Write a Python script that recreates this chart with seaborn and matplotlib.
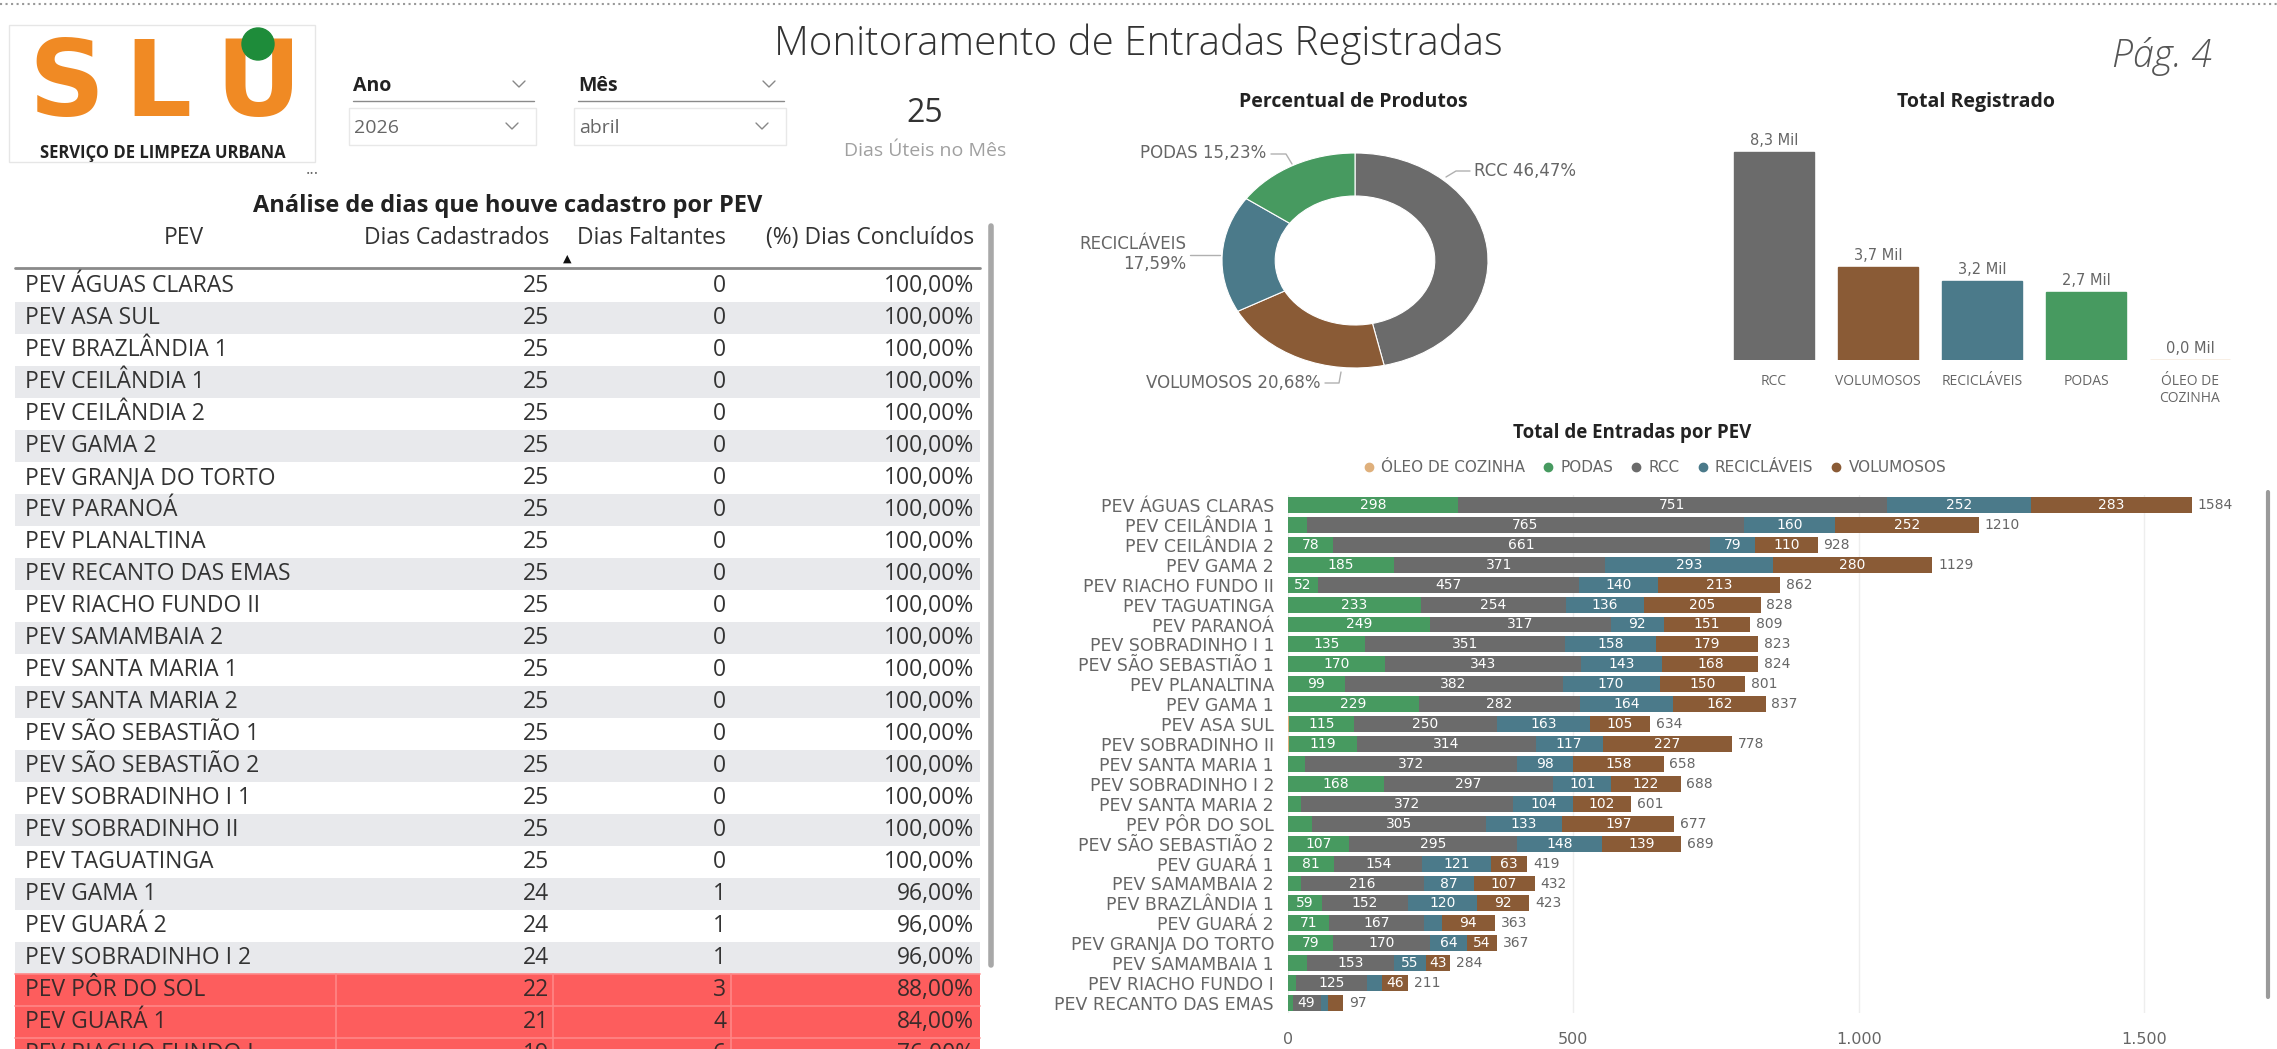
import matplotlib
matplotlib.use("Agg")
import matplotlib.pyplot as plt
from matplotlib.patches import Rectangle, Circle
from matplotlib.lines import Line2D
import numpy as np
import pandas as pd
import seaborn as sns

# ---------------- data ----------------
table_pev = ["PEV ÁGUAS CLARAS", "PEV ASA SUL", "PEV BRAZLÂNDIA 1", "PEV CEILÂNDIA 1",
             "PEV CEILÂNDIA 2", "PEV GAMA 2", "PEV GRANJA DO TORTO", "PEV PARANOÁ",
             "PEV PLANALTINA", "PEV RECANTO DAS EMAS", "PEV RIACHO FUNDO II", "PEV SAMAMBAIA 2",
             "PEV SANTA MARIA 1", "PEV SANTA MARIA 2", "PEV SÃO SEBASTIÃO 1", "PEV SÃO SEBASTIÃO 2",
             "PEV SOBRADINHO I 1", "PEV SOBRADINHO II", "PEV TAGUATINGA", "PEV GAMA 1",
             "PEV GUARÁ 2", "PEV SOBRADINHO I 2", "PEV PÔR DO SOL", "PEV GUARÁ 1",
             "PEV RIACHO FUNDO I"]
dias_cadastrados = [25, 25, 25, 25, 25, 25, 25, 25, 25, 25, 25, 25, 25, 25, 25, 25, 25, 25, 25,
                    24, 24, 24, 22, 21, 19]
dias_faltantes = [0, 0, 0, 0, 0, 0, 0, 0, 0, 0, 0, 0, 0, 0, 0, 0, 0, 0, 0,
                  1, 1, 1, 3, 4, 6]
pct_concluidos = [100, 100, 100, 100, 100, 100, 100, 100, 100, 100, 100, 100, 100, 100, 100,
                  100, 100, 100, 100, 96, 96, 96, 88, 84, 76]

pev_names = ["PEV ÁGUAS CLARAS", "PEV CEILÂNDIA 1", "PEV CEILÂNDIA 2", "PEV GAMA 2",
             "PEV RIACHO FUNDO II", "PEV TAGUATINGA", "PEV PARANOÁ", "PEV SOBRADINHO I 1",
             "PEV SÃO SEBASTIÃO 1", "PEV PLANALTINA", "PEV GAMA 1", "PEV ASA SUL",
             "PEV SOBRADINHO II", "PEV SANTA MARIA 1", "PEV SOBRADINHO I 2", "PEV SANTA MARIA 2",
             "PEV PÔR DO SOL", "PEV SÃO SEBASTIÃO 2", "PEV GUARÁ 1", "PEV SAMAMBAIA 2",
             "PEV BRAZLÂNDIA 1", "PEV GUARÁ 2", "PEV GRANJA DO TORTO", "PEV SAMAMBAIA 1",
             "PEV RIACHO FUNDO I", "PEV RECANTO DAS EMAS"]
oleo = [0, 0, 0, 0, 0, 0, 0, 0, 0, 0, 0, 1, 1, 0, 0, 0, 0, 0, 0, 0, 0, 0, 0, 0, 0, 0]
podas = [298, 33, 78, 185, 52, 233, 249, 135, 170, 99, 229, 115, 119, 30, 168, 23, 42, 107,
         81, 22, 59, 71, 79, 33, 14, 8]
rcc = [751, 765, 661, 371, 457, 254, 317, 351, 343, 382, 282, 250, 314, 372, 297, 372, 305,
       295, 154, 216, 152, 167, 170, 153, 125, 49]
reciclaveis = [252, 160, 79, 293, 140, 136, 92, 158, 143, 170, 164, 163, 117, 98, 101, 104,
               133, 148, 121, 87, 120, 31, 64, 55, 26, 13]
volumosos = [283, 252, 110, 280, 213, 205, 151, 179, 168, 150, 162, 105, 227, 158, 122, 102,
             197, 139, 63, 107, 92, 94, 54, 43, 46, 27]

donut_labels = ["RCC", "VOLUMOSOS", "RECICLÁVEIS", "PODAS"]
donut_pct = [46.47, 20.68, 17.59, 15.23]

total_cats = ["RCC", "VOLUMOSOS", "RECICLÁVEIS", "PODAS", "ÓLEO DE\nCOZINHA"]

C_OLEO = "#dfb07c"
C_PODAS = "#479a60"
C_RCC = "#6b6b6b"
C_REC = "#4b7a8a"
C_VOL = "#8a5b36"
GRAY = "#666666"

sns.set_style("white")
plt.rcParams["font.family"] = ["Open Sans", "DejaVu Sans"]

W, H = 2277, 1049
fig = plt.figure(figsize=(W / 100, H / 100), dpi=100)


def add_ax(x0, y0, x1, y1):
    return fig.add_axes([x0 / W, 1 - y1 / H, (x1 - x0) / W, (y1 - y0) / H])


# background canvas in pixel coordinates
bg = fig.add_axes([0, 0, 1, 1])
bg.set_xlim(0, W)
bg.set_ylim(H, 0)
bg.axis("off")

bg.plot([0, W], [4, 4], ls=":", color="#999999", lw=1.5)

# ---------------- header ----------------
bg.text(1138, 44, "Monitoramento de Entradas Registradas", ha="center", va="center",
        fontsize=29, fontweight="light", color="#333333")
bg.text(2212, 57, "Pág. 4", ha="right", va="center", fontsize=27, fontstyle="italic",
        fontweight="light", color="#555555")

# logo
bg.add_patch(Rectangle((9, 25), 306, 137, facecolor="white", edgecolor="#e6e6e6", lw=1))
for letter, xc in [("S", 66), ("L", 158), ("U", 258)]:
    bg.text(xc, 116, letter, ha="center", va="baseline", fontsize=76, fontweight="heavy",
            color="#f08a24", family="DejaVu Sans")
bg.add_patch(Circle((258, 44), 16, color="#1e8c3a", zorder=5))
bg.text(163, 153, "SERVIÇO DE LIMPEZA URBANA", ha="center", va="center", fontsize=12,
        fontweight="bold", color="#222222")


def chevron(x, y, size=6):
    bg.plot([x - size, x, x + size], [y - size / 2, y + size / 2, y - size / 2],
            color="#888888", lw=1)


# slicers
for x0, x1, head, val in [(353, 534, "Ano", "2026"), (578, 784, "Mês", "abril")]:
    bg.text(x0, 86, head, ha="left", va="center", fontsize=14, fontweight="bold", color="#222222")
    bg.plot([x0, x1], [101, 101], color="#8a8a8a", lw=1)
    chevron(x1 - 15, 84)
    bg.add_patch(Rectangle((x0 - 4, 108), x1 - x0 + 6, 37, facecolor="white",
                           edgecolor="#e8e8e8", lw=1))
    bg.text(x0 + 1, 128, val, ha="left", va="center", fontsize=14, color=GRAY)
    chevron(x1 - 22, 126)

bg.text(925, 113, "25", ha="center", va="center", fontsize=23, color="#333333")
bg.text(925, 151, "Dias Úteis no Mês", ha="center", va="center", fontsize=14, color="#a0a0a0")
bg.text(312, 170, "...", ha="center", va="center", fontsize=12, color=GRAY)

# ---------------- table ----------------
bg.text(508, 206, "Análise de dias que houve cadastro por PEV", ha="center", va="center",
        fontsize=17, fontweight="bold", color="#222222")
bg.text(184, 238, "PEV", ha="center", va="center", fontsize=16.5, color="#333333")
bg.text(549, 238, "Dias Cadastrados", ha="right", va="center", fontsize=16.5, color="#333333")
bg.text(726, 238, "Dias Faltantes", ha="right", va="center", fontsize=16.5, color="#333333")
bg.text(974, 238, "(%) Dias Concluídos", ha="right", va="center", fontsize=16.5, color="#333333")
bg.text(567, 259, "▲", ha="center", va="center", fontsize=8, color="#111111", family="DejaVu Sans")
bg.plot([15, 980], [268, 268], color="#8a8a8a", lw=2)

for i, name in enumerate(table_pev):
    yc = 286 + 32 * i
    red = pct_concluidos[i] < 90
    if red:
        face = "#fd5d5d"
    elif i % 2 == 1:
        face = "#e8e9ec"
    else:
        face = "white"
    bg.add_patch(Rectangle((15, yc - 16), 965, 32, facecolor=face, edgecolor="none"))
    if red:
        for xs in (336, 553, 731):
            bg.plot([xs, xs], [yc - 16, yc + 16], color="#ff8686", lw=1.2)
        bg.plot([15, 980], [yc - 16, yc - 16], color="#ff8686", lw=1.2)
    tc = "#3a2a2a" if red else "#333333"
    bg.text(25, yc, name, ha="left", va="center", fontsize=16.5, color=tc, clip_on=True)
    bg.text(549, yc, str(dias_cadastrados[i]), ha="right", va="center", fontsize=16.5, color=tc,
            clip_on=True)
    bg.text(726, yc, str(dias_faltantes[i]), ha="right", va="center", fontsize=16.5, color=tc,
            clip_on=True)
    bg.text(974, yc, f"{pct_concluidos[i]:.2f}%".replace(".", ","), ha="right", va="center",
            fontsize=16.5, color=tc, clip_on=True)

bg.plot([991, 991], [226, 965], color="#a8a8a8", lw=4, solid_capstyle="round")

# ---------------- donut ----------------
bg.text(1353, 102, "Percentual de Produtos", ha="center", va="center", fontsize=14,
        fontweight="bold", color="#222222")
ax_d = add_ax(1222, 153, 1488, 368)
ax_d.pie(donut_pct, colors=[C_RCC, C_VOL, C_REC, C_PODAS], startangle=90, counterclock=False,
         wedgeprops=dict(width=0.4, edgecolor="white", linewidth=0.8))
ax_d.set_aspect("auto")
ax_d.set_xlim(-1, 1)
ax_d.set_ylim(-1, 1)
ax_d.axis("off")

fmt = lambda p: f"{p:.2f}%".replace(".", ",")
lab_kw = dict(fontsize=12, color=GRAY, family="DejaVu Sans", va="center")
bg.text(1266, 153, f"{donut_labels[3]} {fmt(donut_pct[3])}", ha="right", **lab_kw)
bg.plot([1271, 1286, 1292], [154, 154, 164], color="#b0b0b0", lw=1)
bg.text(1474, 171, f"{donut_labels[0]} {fmt(donut_pct[0])}", ha="left", **lab_kw)
bg.plot([1446, 1456, 1470], [177, 171, 171], color="#b0b0b0", lw=1)
bg.text(1186, 254, f"{donut_labels[2]}\n{fmt(donut_pct[2])}", ha="right",
        multialignment="right", linespacing=1.1, **lab_kw)
bg.plot([1190, 1220], [255, 255], color="#b0b0b0", lw=1)
bg.text(1320, 383, f"{donut_labels[1]} {fmt(donut_pct[1])}", ha="right", **lab_kw)
bg.plot([1325, 1339, 1341], [383, 383, 372], color="#b0b0b0", lw=1)

# ---------------- total registrado ----------------
bg.text(1976, 102, "Total Registrado", ha="center", va="center", fontsize=14,
        fontweight="bold", color="#222222")
totals_df = pd.DataFrame({
    "cat": total_cats,
    "total": [sum(rcc), sum(volumosos), sum(reciclaveis), sum(podas), sum(oleo)],
})
ax_t = add_ax(1722, 120, 2242, 360)
sns.barplot(data=totals_df, x="cat", y="total", hue="cat", legend=False, saturation=1,
            palette=[C_RCC, C_VOL, C_REC, C_PODAS, C_OLEO], width=0.77, ax=ax_t)
for patch, c in zip(ax_t.patches, [C_RCC, C_VOL, C_REC, C_PODAS, C_OLEO]):
    patch.set_edgecolor(c)
    patch.set_linewidth(1)
ax_t.set_ylim(0, sum(rcc) * 240 / 208)
ax_t.set_xlim(-0.5, 4.5)
for i, v in enumerate(totals_df["total"]):
    ax_t.annotate(f"{v / 1000:.1f} Mil".replace(".", ","), (i, v), xytext=(0, 3),
                  textcoords="offset points", ha="center", va="bottom",
                  fontsize=10.5, color=GRAY, family="DejaVu Sans")
ax_t.set_xlabel("")
ax_t.set_ylabel("")
ax_t.set_yticks([])
ax_t.tick_params(axis="x", length=0, pad=10, labelsize=10, labelcolor=GRAY)
for lbl in ax_t.get_xticklabels():
    lbl.set_verticalalignment("top")
    lbl.set_linespacing(1.15)
sns.despine(ax=ax_t, left=True, bottom=True)
ax_t.patch.set_alpha(0)

# ---------------- stacked bars ----------------
bg.text(1632, 433, "Total de Entradas por PEV", ha="center", va="center", fontsize=13.5,
        fontweight="bold", color="#222222")

df = pd.DataFrame({"pev": pev_names, "oleo": oleo, "podas": podas, "rcc": rcc,
                   "rec": reciclaveis, "vol": volumosos})
cols = ["oleo", "podas", "rcc", "rec", "vol"]
colors = {"oleo": C_OLEO, "podas": C_PODAS, "rcc": C_RCC, "rec": C_REC, "vol": C_VOL}
cum = df[cols].cumsum(axis=1)

ax_s = add_ax(1288, 495, 2247, 1013)
for c in reversed(cols):
    sns.barplot(x=cum[c], y=df["pev"], order=pev_names, orient="y", color=colors[c],
                saturation=1, width=0.8, ax=ax_s, edgecolor="none")
ax_s.set_xlim(0, 1680)
ax_s.set_ylim(25.5, -0.5)
for i in range(len(df)):
    for c in cols[1:]:
        v = df.loc[i, c]
        if v >= 43:
            ax_s.text(cum.loc[i, c] - v / 2, i, str(v), ha="center", va="center",
                      fontsize=10, color="white", family="DejaVu Sans")
    tot = cum.loc[i, "vol"]
    ax_s.text(tot + 10, i, str(tot), ha="left", va="center", fontsize=10, color=GRAY,
              family="DejaVu Sans")
ax_s.set_xlabel("")
ax_s.set_ylabel("")
ax_s.set_xticks([0, 500, 1000, 1500])
ax_s.set_xticklabels(["0", "500", "1.000", "1.500"])
ax_s.tick_params(axis="x", length=0, pad=14, labelsize=11.5, labelcolor=GRAY)
ax_s.tick_params(axis="y", length=0, pad=10, labelsize=12.5, labelcolor=GRAY)
for lbl in ax_s.get_yticklabels() + ax_s.get_xticklabels():
    lbl.set_family("DejaVu Sans")
ax_s.xaxis.grid(True, color="#eeeeee", lw=1)
ax_s.set_axisbelow(True)
sns.despine(ax=ax_s, left=True, bottom=True)
ax_s.patch.set_alpha(0)

handles = [Line2D([], [], marker="o", ls="", color=col, markersize=6)
           for col in [C_OLEO, C_PODAS, C_RCC, C_REC, C_VOL]]
fig.legend(handles, ["ÓLEO DE COZINHA", "PODAS", "RCC", "RECICLÁVEIS", "VOLUMOSOS"],
           loc="center", bbox_to_anchor=(1650 / W, 1 - 468 / H), ncol=5, frameon=False,
           handletextpad=-0.2, columnspacing=0.5, labelcolor=GRAY,
           prop={"family": "DejaVu Sans", "size": 11})

bg.plot([2268, 2268], [492, 997], color="#9a9a9a", lw=3, solid_capstyle="round")

fig.savefig("out.png", dpi=100)
